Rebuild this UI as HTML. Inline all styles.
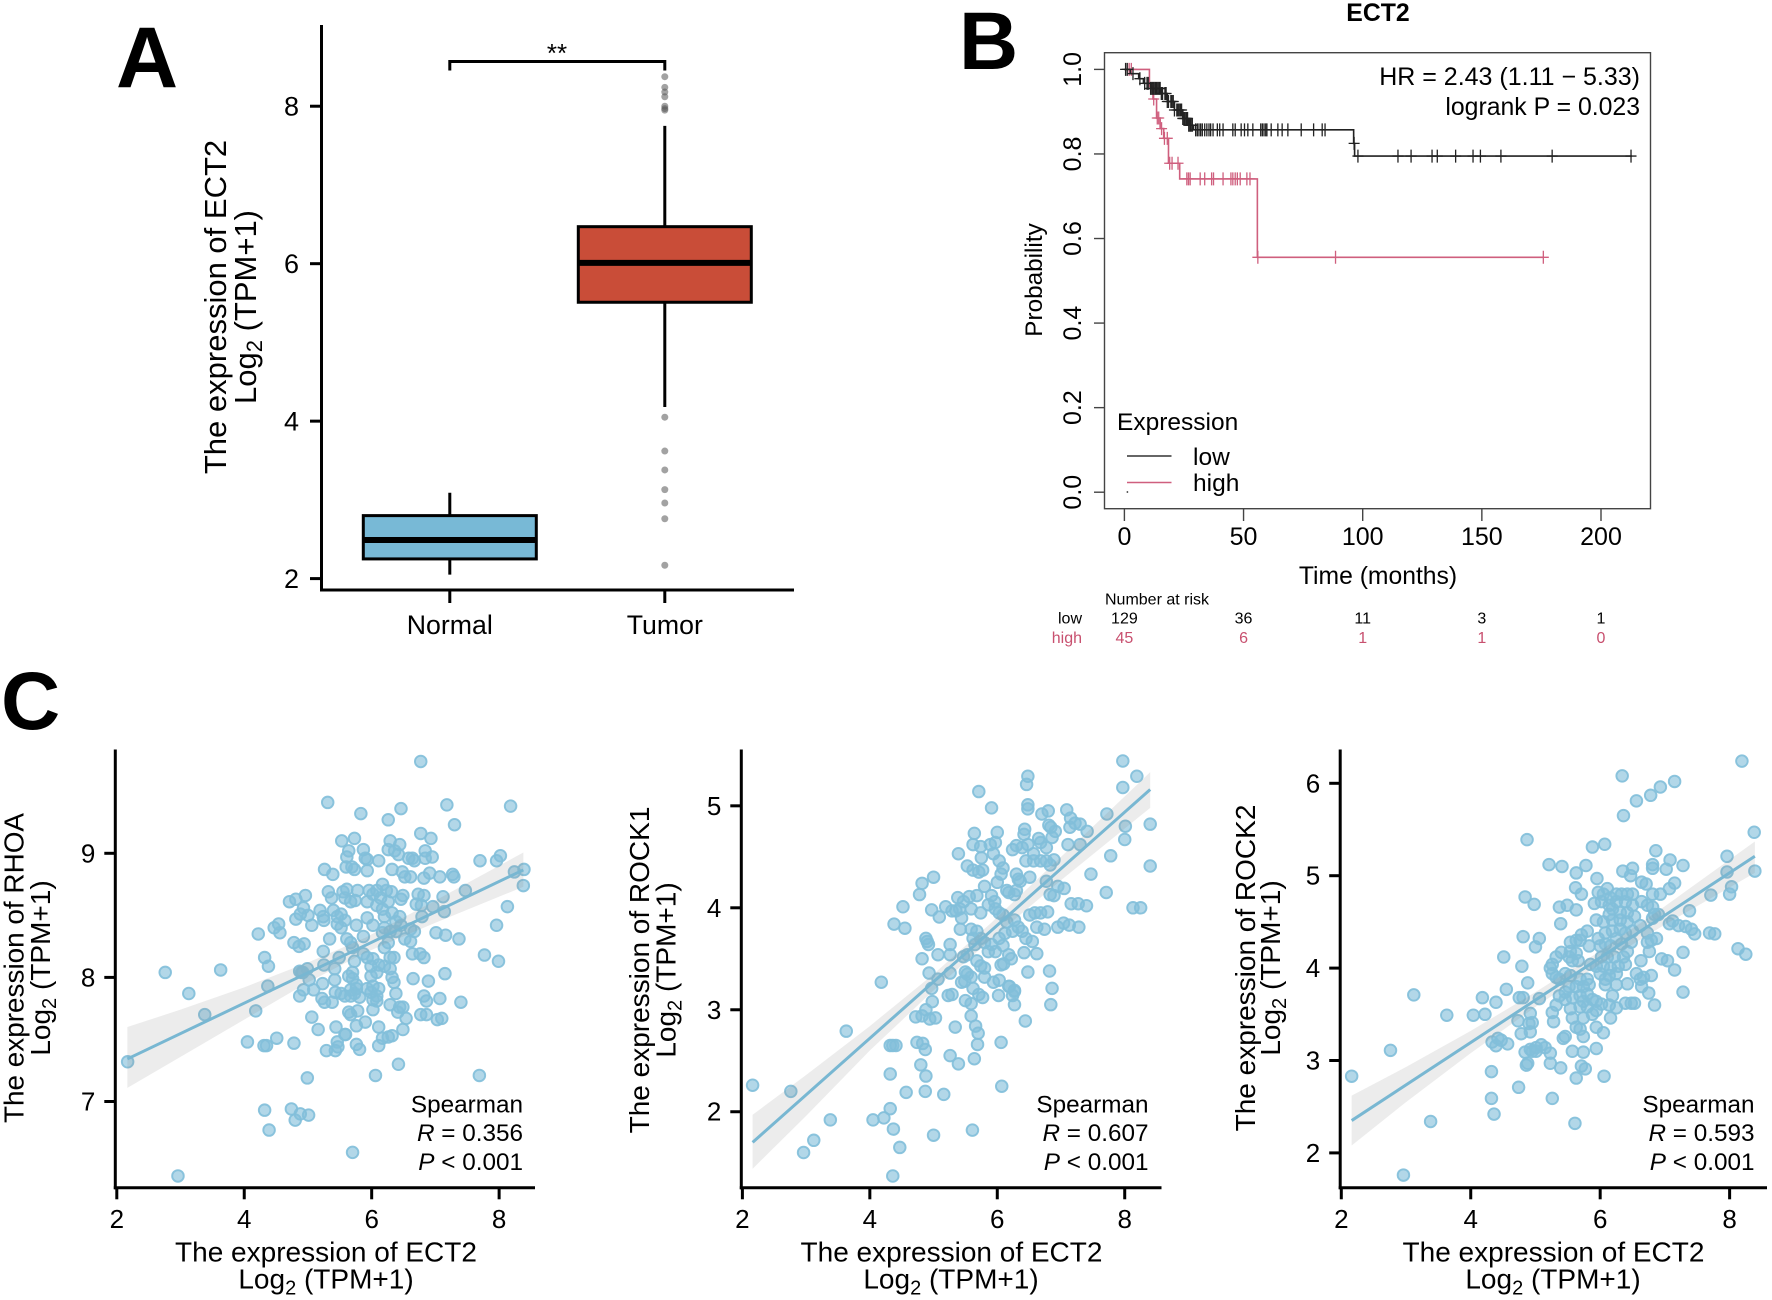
<!DOCTYPE html>
<html lang="en">
<head>
<meta charset="utf-8">
<title>ECT2 expression figure</title>
<style>
html,body{margin:0;padding:0;background:#fff}
svg{display:block}
text{font-family:"Liberation Sans",sans-serif;fill:#000}
</style>
</head>
<body>
<svg id="fig" xmlns="http://www.w3.org/2000/svg" width="1772" height="1300" viewBox="0 0 1772 1300">
  <rect width="1772" height="1300" fill="#fff"/>

  <text x="116" y="87" font-size="86" font-weight="700">A</text>
  <text x="959" y="69" font-size="82" font-weight="700">B</text>
  <text x="1" y="729" font-size="82" font-weight="700">C</text>

  <g id="panelA">
    <text transform="translate(226 307) rotate(-90)" text-anchor="middle" font-size="31">The expression of ECT2</text>
    <text transform="translate(256 307) rotate(-90)" text-anchor="middle" font-size="31">Log<tspan font-size="22" dy="6">2</tspan><tspan dy="-6"> (TPM+1)</tspan></text>
    <text x="557" y="62" text-anchor="middle" font-size="26">**</text>
  </g>

  <g id="panelB">
    <text x="1378" y="21" text-anchor="middle" font-size="24.8" font-weight="700">ECT2</text>
    <text x="1378" y="584" text-anchor="middle" font-size="24.7">Time (months)</text>
    <text transform="translate(1042 280) rotate(-90)" text-anchor="middle" font-size="24.3">Probability</text>
    <text x="1640" y="85" text-anchor="end" font-size="25">HR = 2.43 (1.11 − 5.33)</text>
    <text x="1640" y="115" text-anchor="end" font-size="24.8">logrank P = 0.023</text>
    <text x="1117" y="430" font-size="24.5">Expression</text>
    <line x1="1127" x2="1171.5" y1="456" y2="456" stroke="#333" stroke-width="1.5"/>
    <line x1="1127" x2="1171.5" y1="482.5" y2="482.5" stroke="#cf5f7e" stroke-width="1.5"/>
    <text x="1193" y="465" font-size="24.5">low</text>
    <text x="1193" y="491" font-size="24.5">high</text>
    <circle cx="1127.4" cy="492" r="0.9" fill="#333"/>
    <text x="1105" y="604.5" font-size="16">Number at risk</text>
    <text x="1082" y="623.5" text-anchor="end" font-size="16">low</text>
    <text x="1082" y="643" text-anchor="end" font-size="16" style="fill:#c8506f">high</text>
  </g>

  <g id="panelC1">
    <text transform="translate(23.5 968) rotate(-90)" text-anchor="middle" font-size="27.9">The expression of RHOA</text>
    <text transform="translate(50 968) rotate(-90)" text-anchor="middle" font-size="28">Log<tspan font-size="20" dy="6">2</tspan><tspan dy="-6"> (TPM+1)</tspan></text>
    <text x="326" y="1261.5" text-anchor="middle" font-size="28">The expression of ECT2</text>
    <text x="326" y="1288.5" text-anchor="middle" font-size="28">Log<tspan font-size="20" dy="6">2</tspan><tspan dy="-6"> (TPM+1)</tspan></text>
    <text x="523" y="1112.5" text-anchor="end" font-size="24.3">Spearman</text>
    <text x="523" y="1141" text-anchor="end" font-size="24.3"><tspan font-style="italic">R</tspan> = 0.356</text>
    <text x="523" y="1170" text-anchor="end" font-size="24.3"><tspan font-style="italic">P</tspan> &lt; 0.001</text>
  </g>

  <g id="panelC2">
    <text transform="translate(649 970) rotate(-90)" text-anchor="middle" font-size="28">The expression of ROCK1</text>
    <text transform="translate(675.5 970) rotate(-90)" text-anchor="middle" font-size="28">Log<tspan font-size="20" dy="6">2</tspan><tspan dy="-6"> (TPM+1)</tspan></text>
    <text x="951.5" y="1261.5" text-anchor="middle" font-size="28">The expression of ECT2</text>
    <text x="951" y="1288.5" text-anchor="middle" font-size="28">Log<tspan font-size="20" dy="6">2</tspan><tspan dy="-6"> (TPM+1)</tspan></text>
    <text x="1148.5" y="1112.5" text-anchor="end" font-size="24.3">Spearman</text>
    <text x="1148.5" y="1141" text-anchor="end" font-size="24.3"><tspan font-style="italic">R</tspan> = 0.607</text>
    <text x="1148.5" y="1170" text-anchor="end" font-size="24.3"><tspan font-style="italic">P</tspan> &lt; 0.001</text>
  </g>

  <g id="panelC3">
    <text transform="translate(1255 968) rotate(-90)" text-anchor="middle" font-size="28">The expression of ROCK2</text>
    <text transform="translate(1280 968) rotate(-90)" text-anchor="middle" font-size="28">Log<tspan font-size="20" dy="6">2</tspan><tspan dy="-6"> (TPM+1)</tspan></text>
    <text x="1553.5" y="1261.5" text-anchor="middle" font-size="28">The expression of ECT2</text>
    <text x="1553" y="1288.5" text-anchor="middle" font-size="28">Log<tspan font-size="20" dy="6">2</tspan><tspan dy="-6"> (TPM+1)</tspan></text>
    <text x="1754.5" y="1112.5" text-anchor="end" font-size="24.3">Spearman</text>
    <text x="1754.5" y="1141" text-anchor="end" font-size="24.3"><tspan font-style="italic">R</tspan> = 0.593</text>
    <text x="1754.5" y="1170" text-anchor="end" font-size="24.3"><tspan font-style="italic">P</tspan> &lt; 0.001</text>
  </g>
</svg>

<script>
/* ---------- Panel A data ---------- */
const boxCategories = ["Normal", "Tumor"];
const boxQ1 = [2.25, 5.51];
const boxMedian = [2.49, 6.01];
const boxQ3 = [2.80, 6.47];
const boxWhiskerLow = [2.05, 4.18];
const boxWhiskerHigh = [3.09, 7.75];
const tumorOutliers = [8.375, 8.24, 8.18, 8.12, 8.0, 7.97, 7.95, 4.05, 3.62, 3.38, 3.13, 2.96, 2.76, 2.17];
const boxYTicks = [2, 4, 6, 8];

/* ---------- Panel B data ---------- */
const kmXTicks = [0, 50, 100, 150, 200];
const kmYTicks = ["0.0", "0.2", "0.4", "0.6", "0.8", "1.0"];
const lowStepTimes = [0, 2.5, 6, 8, 11, 15.5, 18, 21, 24.5, 27, 29, 96.2, 96.6];
const lowStepSurvival = [1, 0.99, 0.978, 0.967, 0.955, 0.943, 0.924, 0.904, 0.884, 0.868, 0.857, 0.825, 0.795];
const lowEndTime = 213;
const highStepTimes = [0, 10.5, 12, 13.5, 15, 16.5, 18.5, 23.2, 55.8];
const highStepSurvival = [1, 0.96, 0.93, 0.885, 0.86, 0.837, 0.778, 0.741, 0.5556];
const highEndTime = 176;
const lowCensorTimes = [0.5, 1.2, 3.6, 6.5, 8.5, 9.5, 10, 11, 11.5, 12, 12.5, 13, 13.5, 14, 14.5, 15, 15.5, 16, 17, 17.5, 18, 18.5, 19.5, 20, 20.5, 21, 22, 22.5, 23, 23.5, 24, 24.5, 25, 25.5, 26, 26.5, 27, 27.5, 28, 28.5, 29.9, 30.6, 31.3, 32, 32.7, 33.7, 34.6, 35.5, 36.2, 37.2, 39, 40, 41.4, 45.5, 46.5, 49, 50.4, 51.8, 53.9, 57.2, 57.9, 58.6, 59.3, 59.8, 61.6, 64.4, 66.2, 68.6, 74.2, 79.4, 83, 84.2, 96.4, 98, 114.8, 120.3, 129.1, 131.3, 139, 146.3, 149.4, 158, 179.5, 212.6];
const highCensorTimes = [2, 2.9, 12.3, 13.8, 14.4, 15.6, 16.8, 18, 19, 20, 22.5, 26.2, 26.9, 27.6, 31.8, 33.7, 36.6, 37.4, 41.4, 44.7, 45.5, 46.5, 47.4, 48.6, 51.4, 52.7, 56, 88.6, 175.8];
const riskLow = [129, 36, 11, 3, 1];
const riskHigh = [45, 6, 1, 1, 0];

/* ---------- Panel C data ---------- */
const scatterXTicks = [2, 4, 6, 8];

const rhoaYTicks = [7, 8, 9];
const rhoaX = [
2.17,2.76,2.96,3.13,3.38,3.63,4.05,4.18,4.22,4.32,4.32,4.31,4.35,4.38,4.37,4.39,4.47,4.54,4.56,4.51,
4.71,4.81,4.96,4.93,4.88,5.00,4.81,5.06,4.78,4.86,4.94,4.78,4.74,4.80,4.88,5.01,4.99,4.87,4.90,4.92,
4.99,5.02,4.93,4.87,5.09,5.06,5.16,5.19,5.24,5.25,5.26,5.31,5.39,5.32,5.37,5.34,5.24,5.25,5.23,5.22,
5.26,5.38,5.29,5.43,5.47,5.44,5.59,5.42,5.42,5.43,5.49,5.53,5.73,5.64,5.61,5.87,5.83,5.60,5.69,5.73,
5.93,5.90,5.93,6.11,6.26,6.46,6.77,7.18,7.30,6.77,6.93,8.18,7.70,7.96,8.02,8.24,8.39,8.38,8.13,7.96,
7.77,7.99,7.40,7.37,7.16,7.01,7.47,7.12,7.14,6.96,7.15,6.89,7.07,6.82,6.86,7.69,6.42,6.06,5.70,
6.29,6.44,6.26,6.36,6.42,6.58,6.67,6.84,6.95,6.84,6.64,6.32,6.48,6.52,6.61,6.82,6.91,7.07,7.27,7.29,
6.77,6.86,7.03,7.10,
5.55,5.61,5.58,5.67,5.74,5.78,5.96,6.02,5.93,6.08,6.17,6.14,6.23,6.31,6.26,6.17,6.08,6.32,6.44,6.46,
6.49,6.73,6.82,6.70,6.78,6.79,6.67,6.61,5.46,5.52,5.40,5.46,5.52,5.58,5.76,5.93,6.02,6.20,6.20,6.38,
6.46,6.29,6.17,6.38,5.61,5.67,5.87,5.70,6.26,6.20,6.52,6.61,6.64,6.76,6.82,6.35,6.29,5.87,5.73,5.93,
6.02,6.11,6.20,6.29,5.99,5.99,6.32,6.35,6.65,6.08,5.70,5.70,5.76,5.64,5.67,5.76,5.58,5.52,5.67,5.73,
5.81,5.93,6.02,6.11,5.99,6.08,6.02,6.08,6.02,6.29,6.38,6.44,6.49,6.41,6.54,5.64,5.67,5.78,5.90,5.76,
6.11,6.49,6.32,6.17,6.26,6.11,5.76,5.81,5.58,5.46
];
const rhoaY = [
7.32,8.04,6.40,7.87,7.70,8.06,7.48,7.73,8.35,8.16,6.93,7.45,7.45,8.09,7.93,6.77,8.40,8.43,8.36,7.51,
8.61,8.63,8.66,8.56,8.51,8.50,8.47,8.42,8.28,8.25,8.27,7.47,6.94,6.85,6.90,6.89,7.19,8.05,8.04,8.04,
8.07,7.98,7.90,7.85,7.90,7.68,7.58,8.54,8.49,8.46,8.87,9.41,8.83,8.69,8.64,8.31,8.21,8.10,7.95,7.83,
7.80,7.80,7.41,7.41,7.44,7.60,7.54,7.98,8.07,7.88,8.16,9.10,9.12,9.02,8.97,9.03,9.32,8.89,8.89,8.87,
8.95,8.96,8.86,8.94,9.27,9.36,9.74,9.39,9.23,9.16,9.12,9.38,8.94,8.94,8.98,8.85,8.87,8.74,8.57,8.42,
8.18,8.13,7.80,8.31,8.34,8.36,8.70,8.65,8.53,8.57,8.03,7.97,7.83,7.85,7.81,7.21,7.30,7.21,6.59,
9.10,9.07,9.03,9.02,8.99,8.96,8.94,9.02,8.97,8.96,8.96,8.87,8.85,8.81,8.81,8.80,8.84,8.81,8.83,8.81,
7.70,7.70,7.66,7.67,
8.69,8.71,8.64,8.61,8.62,8.70,8.70,8.67,8.61,8.70,8.75,8.64,8.70,8.69,8.61,8.55,8.58,8.52,8.49,8.63,
8.66,8.67,8.66,8.59,8.58,8.49,8.37,8.39,8.49,8.51,8.54,8.43,8.40,8.46,8.42,8.48,8.42,8.40,8.49,8.45,
8.42,8.37,8.36,8.37,8.31,8.28,8.33,8.24,8.28,8.24,8.31,8.29,8.19,8.19,8.16,8.16,8.16,8.19,8.13,8.16,
8.15,8.10,8.09,8.07,8.09,8.01,8.00,7.96,7.99,8.04,8.04,7.99,7.94,8.01,7.90,7.91,7.85,7.87,7.85,7.87,
7.84,7.91,7.93,7.91,7.88,7.85,7.82,7.81,7.74,7.78,7.87,7.76,7.76,7.72,7.67,7.72,7.70,7.73,7.64,7.61,
7.60,7.58,7.53,7.51,7.52,7.45,7.46,7.42,7.54,7.48
];
const rhoaFitX = [2.166, 8.38];
const rhoaFitY = [7.343, 8.866];
const rhoaBandX = [2.166, 3, 4, 5, 5.9, 7, 8.38];
const rhoaBandHigh = [7.60, 7.74, 7.92, 8.12, 8.32, 8.62, 9.006];
const rhoaBandLow = [7.11, 7.36, 7.66, 7.96, 8.20, 8.44, 8.73];

const rock1YTicks = [2, 3, 4, 5];
const rock1X = [
2.16,2.76,2.96,3.12,3.38,3.63,4.05,4.22,4.32,4.37,4.47,4.36,4.32,4.18,4.32,4.36,4.41,4.57,4.38,4.55,
4.52,4.78,4.82,5.00,4.97,5.09,5.19,4.88,4.90,4.92,4.82,5.07,5.26,5.26,4.93,5.07,5.26,4.97,5.23,5.29,
4.98,4.88,4.72,4.82,4.94,5.03,5.34,4.74,4.83,4.87,4.80,4.88,4.87,5.16,5.00,5.26,5.39,5.64,5.69,5.70,
5.66,5.59,6.06,6.07,5.61,6.44,6.27,6.84,6.86,6.82,6.48,6.02,6.24,6.27,6.19,
7.97,8.19,7.97,7.72,8.01,8.40,8.00,7.78,8.40,7.47,7.71,8.13,8.25,7.40,7.28,5.71,5.91,6.48,6.46,6.48,
6.48,6.70,6.80,7.09,7.15,7.14,7.22,7.30,7.41,7.30,7.11,6.81,6.84,6.91,6.86,
6.00,5.64,5.39,5.62,5.74,5.89,5.97,5.53,5.62,5.71,5.77,5.75,5.94,6.03,6.09,6.06,6.00,5.80,
6.43,6.42,6.30,6.24,6.39,6.48,6.65,6.68,6.77,6.57,6.45,6.57,6.68,6.77,6.89,6.83,6.30,6.33,6.36,6.51,
6.77,6.95,7.05,6.83,6.89,7.16,7.27,6.30,6.18,6.15,6.27,
5.38,5.47,5.56,5.68,5.91,5.96,5.29,5.35,5.44,5.41,5.59,5.74,5.86,5.97,6.03,6.09,6.15,6.27,6.33,6.24,
6.12,6.39,6.51,6.59,6.68,6.79,6.62,6.74,6.95,7.04,7.13,5.42,5.59,5.68,5.62,5.74,5.65,5.80,5.91,6.03,
6.09,5.86,5.97,6.18,6.22,6.42,6.62,6.55,6.45,5.47,5.53,5.68,5.74,5.80,6.06,6.10,5.50,5.53,5.44,5.49,
5.59,5.80,5.94,6.03,5.62,5.71,5.77,5.50,5.59,6.18,6.27
];
const rock1Y = [
2.26,2.20,1.60,1.72,1.92,2.79,1.92,1.94,2.03,1.83,1.65,1.37,2.37,3.27,2.65,2.65,2.65,2.19,3.84,3.80,
4.01,4.13,4.24,4.30,3.98,3.91,4.01,3.70,3.67,3.64,3.50,3.54,3.64,3.54,3.36,3.30,3.36,3.21,3.14,3.15,
3.08,3.00,2.93,2.94,2.91,2.92,2.83,2.68,2.67,2.61,2.46,2.35,2.20,2.17,1.77,2.55,2.47,2.52,2.66,2.77,
2.84,2.94,2.68,2.25,1.82,2.89,3.05,3.05,3.21,3.38,3.37,3.14,3.14,3.19,3.23,
5.44,5.29,5.18,4.92,4.80,4.82,4.67,4.51,4.41,4.33,4.15,4.00,4.00,4.02,3.81,5.14,4.98,5.29,5.21,5.01,
4.97,4.92,4.95,4.96,4.88,4.79,4.83,4.82,4.75,4.62,4.62,4.81,4.79,4.75,4.69,
4.74,4.73,4.53,4.62,4.60,4.62,4.64,4.41,4.37,4.35,4.37,4.49,4.53,4.46,4.39,4.33,4.25,4.21,
4.77,4.72,4.61,4.57,4.59,4.62,4.68,4.64,4.59,4.53,4.46,4.46,4.46,4.46,4.47,4.42,4.33,4.28,4.26,4.30,
4.26,4.21,4.19,4.13,4.12,4.04,4.04,4.17,4.15,4.17,4.13,
4.10,4.06,4.11,4.12,4.12,4.06,3.97,3.97,3.90,3.99,3.99,3.95,4.03,3.99,3.95,3.93,3.86,3.88,3.81,3.77,
3.75,3.77,3.93,3.95,3.95,3.96,3.81,3.79,3.81,3.85,3.83,3.79,3.79,3.77,3.70,3.70,3.64,3.66,3.64,3.70,
3.63,3.57,3.57,3.54,3.50,3.56,3.55,3.67,3.70,3.52,3.54,3.48,3.43,3.41,3.44,3.45,3.37,3.35,3.27,3.28,
3.32,3.32,3.27,3.29,3.21,3.15,3.12,3.09,3.06,3.23,3.18
];
const rock1FitX = [2.16, 8.40];
const rock1FitY = [1.70, 5.16];
const rock1BandX = [2.16, 3, 4, 5, 5.9, 7, 8.40];
const rock1BandHigh = [1.97, 2.36, 2.84, 3.35, 3.85, 4.50, 5.33];
const rock1BandLow = [1.44, 1.96, 2.60, 3.19, 3.69, 4.27, 4.98];

const rock2YTicks = [2, 3, 4, 5, 6];
const rock2X = [
2.16,2.76,2.96,3.12,3.38,3.63,4.04,4.18,4.22,4.39,4.55,4.51,4.32,4.32,4.36,4.74,5.26,5.61,5.63,6.06,
4.87,5.21,5.41,5.63,5.78,5.88,6.07,6.34,6.36,6.56,6.78,6.93,7.15,8.19,8.38,7.96,7.96,8.39,8.03,8.00,
7.71,7.38,8.13,8.25,7.28,7.28,7.69,7.77,7.41,7.46,7.32,7.21,7.12,7.07,
6.86,6.81,6.81,7.08,7.02,7.28,7.15,7.07,6.93,6.81,6.64,6.71,6.35,6.50,6.47,5.95,5.62,5.71,5.91,5.37,
5.49,5.63,4.84,4.98,5.39,4.81,5.06,5.00,4.79,4.88,4.75,4.81,5.06,4.92,4.73,
4.90,4.95,4.78,4.92,4.33,4.42,4.39,4.47,4.57,4.84,4.92,5.01,5.09,5.15,5.23,5.01,4.95,4.86,4.88,5.23,5.39,
5.97,6.05,6.11,6.16,6.25,6.33,6.42,6.50,6.02,6.14,6.25,6.39,6.50,6.64,6.73,6.81,6.19,6.31,6.42,6.14,
5.94,6.05,6.19,6.31,6.42,6.53,6.84,6.90,6.81,
5.80,5.71,5.63,5.54,5.69,5.97,6.08,6.19,6.31,6.39,6.50,6.62,6.73,6.79,6.87,6.73,6.25,6.08,6.00,6.16,
6.33,6.48,5.83,5.63,5.54,5.52,5.57,5.40,5.32,5.26,5.23,5.26,5.32,
5.66,6.02,6.11,6.22,6.36,6.42,6.76,6.95,7.04,7.15,6.63,
5.85,5.94,6.05,6.16,6.28,6.39,6.00,6.08,6.14,6.25,6.56,6.67,6.79,6.62,
5.37,5.46,5.54,5.69,5.80,5.74,5.63,5.83,5.52,5.46,6.08,6.25,6.42,6.64,6.75,6.19,6.84,
5.37,5.46,5.57,5.69,5.80,5.74,5.88,5.94,6.02,6.14,6.25,6.48,6.53,6.39,5.54,5.69,5.80,5.88,5.94,6.16,
5.32,5.26,5.28,5.57,5.74,5.63,5.94,6.05,5.69,5.74,5.43,5.46,5.57,5.74,5.94,5.71,5.77
];
const rock2Y = [
2.83,3.11,1.76,3.71,2.34,3.49,3.49,3.68,3.50,3.63,3.77,4.12,2.88,2.59,2.42,2.71,2.59,2.32,2.81,2.83,
5.39,5.12,5.10,5.03,5.11,5.31,5.34,6.08,5.65,5.81,5.87,5.96,6.02,6.24,5.47,5.21,5.04,5.05,4.88,4.80,
4.79,4.62,4.21,4.15,4.17,3.74,4.38,4.37,4.42,4.37,4.45,4.46,4.51,4.48,
5.27,5.12,5.08,5.17,5.07,5.11,4.92,4.86,4.80,4.80,4.93,4.91,5.05,5.08,5.00,4.97,4.87,4.80,4.70,4.66,
4.68,4.63,4.77,4.69,4.48,4.34,4.32,4.23,4.02,3.84,3.68,3.68,3.67,3.51,3.43,
3.40,3.41,3.29,3.31,3.20,3.24,3.16,3.22,3.18,3.09,3.12,3.14,3.17,3.14,3.08,3.10,3.10,2.95,2.97,2.97,2.92,
4.82,4.80,4.86,4.76,4.80,4.80,4.80,4.80,4.72,4.68,4.72,4.72,4.68,4.72,4.68,4.66,4.64,4.60,4.60,4.58,
4.52,4.50,4.52,4.52,4.50,4.56,4.58,4.58,4.54,
4.40,4.36,4.30,4.28,4.30,4.32,4.38,4.40,4.42,4.38,4.40,4.46,4.38,4.30,4.32,4.28,4.32,4.26,4.24,4.24,
4.26,4.28,4.24,4.16,4.18,4.12,4.08,4.17,4.12,4.04,4.00,3.94,3.90,
4.08,4.12,4.12,4.12,4.12,4.18,4.18,4.10,4.08,3.98,4.08,
4.04,4.02,4.02,4.00,4.02,4.04,3.94,3.88,3.92,3.94,3.94,3.90,3.92,3.88,
3.88,3.94,3.92,3.88,3.88,3.80,3.80,3.82,3.80,3.74,3.82,3.82,3.83,3.80,3.73,3.70,3.60,
3.70,3.66,3.68,3.70,3.72,3.64,3.66,3.64,3.61,3.60,3.57,3.62,3.62,3.62,3.56,3.58,3.58,3.50,3.54,3.46,
3.60,3.52,3.42,3.46,3.46,3.36,3.36,3.30,3.34,3.26,3.24,3.26,3.10,3.09,3.13,2.94,2.91
];
const rock2FitX = [2.16, 8.39];
const rock2FitY = [2.35, 5.21];
const rock2BandX = [2.16, 3, 4, 5, 5.9, 7, 8.39];
const rock2BandHigh = [2.62, 2.93, 3.32, 3.74, 4.14, 4.67, 5.37];
const rock2BandLow = [2.08, 2.55, 3.08, 3.58, 4.00, 4.47, 5.03];

/* ---------- helpers ---------- */
const NS = "http://www.w3.org/2000/svg";
function mk(tag, attrs, parent) {
  const el = document.createElementNS(NS, tag);
  for (const k in attrs) el.setAttribute(k, attrs[k]);
  parent.appendChild(el);
  return el;
}
function stepAt(times, vals, t) {
  let s = vals[0];
  for (let i = 0; i < times.length; i++) if (times[i] <= t) s = vals[i];
  return s;
}

/* ---------- Panel A ---------- */
(function () {
  const g = document.getElementById("panelA");
  const yA = v => 578.6 - (v - 2) * 78.73;
  const catX = [449.8, 664.8];
  const boxHalf = 86.5;
  const fills = ["#78b9d6", "#c94d38"];

  const yAxis = mk("line", { x1: 321.5, x2: 321.5, y1: 25, y2: 591.5, stroke: "#000", "stroke-width": 3 }, g);
  
  
  const xAxis = mk("line", { x1: 320, x2: 794, y1: 590, y2: 590, stroke: "#000", "stroke-width": 3 }, g);
  
  

  boxYTicks.forEach(v => {
    const t = mk("line", { x1: 310, x2: 321, y1: yA(v), y2: yA(v), stroke: "#000", "stroke-width": 3 }, g);
    
    
    const l = mk("text", { x: 299, y: yA(v) + 9.5, "text-anchor": "end", "font-size": 27 }, g);
    l.textContent = v;
    
    
  });

  boxCategories.forEach((c, i) => {
    const x = catX[i];
    const t = mk("line", { x1: x, x2: x, y1: 590, y2: 603, stroke: "#000", "stroke-width": 3 }, g);
    
    
    const l = mk("text", { x: x, y: 634, "text-anchor": "middle", "font-size": 26.7 }, g);
    l.textContent = c;
    
    
    const w = mk("line", { x1: x, x2: x, y1: yA(boxWhiskerHigh[i]), y2: yA(boxWhiskerLow[i]), stroke: "#000", "stroke-width": 3 }, g);
    
    
    const r = mk("rect", { x: x - boxHalf, y: yA(boxQ3[i]), width: boxHalf * 2, height: yA(boxQ1[i]) - yA(boxQ3[i]), fill: fills[i], stroke: "#000", "stroke-width": 3 }, g);
    
    
    const m = mk("line", { x1: x - boxHalf, x2: x + boxHalf, y1: yA(boxMedian[i]), y2: yA(boxMedian[i]), stroke: "#000", "stroke-width": 6 }, g);
    
    
  });

  tumorOutliers.forEach(v => {
    const o = mk("circle", { cx: catX[1], cy: yA(v), r: 3.5, fill: "#555", "fill-opacity": 0.55 }, g);
    
    
  });

  const b = mk("path", { d: "M" + catX[0] + " 70.5V61.5H" + catX[1] + "V70.5", fill: "none", stroke: "#000", "stroke-width": 3 }, g);
  
  
})();

/* ---------- Panel B ---------- */
(function () {
  const g = document.getElementById("panelB");
  const xB = t => 1124.4 + t * 2.383;
  const yB = s => 492.2 - s * 422.8;
  const axisCol = "#444";

  const frame = mk("rect", { x: 1104.5, y: 52.7, width: 546, height: 456, fill: "none", stroke: axisCol, "stroke-width": 1.4 }, g);
  
  

  kmXTicks.forEach(v => {
    const t = mk("line", { x1: xB(v), x2: xB(v), y1: 509, y2: 521, stroke: axisCol, "stroke-width": 1.4 }, g);
    
    
    const l = mk("text", { x: xB(v), y: 545, "text-anchor": "middle", "font-size": 25 }, g);
    l.textContent = v;
    
    
  });
  kmYTicks.forEach(v => {
    const y = yB(parseFloat(v));
    const t = mk("line", { x1: 1094, x2: 1105, y1: y, y2: y, stroke: axisCol, "stroke-width": 1.4 }, g);
    
    
    const l = mk("text", { transform: "translate(1081 " + y + ") rotate(-90)", "text-anchor": "middle", "font-size": 25 }, g);
    l.textContent = v;
    
    
  });

  function stepPath(times, vals, end) {
    let d = "M" + xB(times[0]) + " " + yB(vals[0]);
    for (let i = 1; i < times.length; i++) {
      d += "H" + xB(times[i]) + "V" + yB(vals[i]);
    }
    return d + "H" + xB(end);
  }
  function censors(times, vals, list, col, name) {
    list.forEach(t => {
      const x = xB(t), y = yB(stepAt(times, vals, t));
      const c = mk("path", { d: "M" + (x - 5.5) + " " + y + "H" + (x + 5.5) + "M" + x + " " + (y - 6.5) + "V" + (y + 6.5), stroke: col, "stroke-width": 1.3, fill: "none" }, g);
      
      
    });
  }
  const highCol = "#cf5f7e", lowCol = "#222";
  const lineHigh = mk("path", { d: stepPath(highStepTimes, highStepSurvival, highEndTime), fill: "none", stroke: highCol, "stroke-width": 1.6 }, g);
  
  
  censors(highStepTimes, highStepSurvival, highCensorTimes, highCol, "censor-mark-high");
  const lineLow = mk("path", { d: stepPath(lowStepTimes, lowStepSurvival, lowEndTime), fill: "none", stroke: lowCol, "stroke-width": 1.6 }, g);
  
  
  censors(lowStepTimes, lowStepSurvival, lowCensorTimes, lowCol, "censor-mark-low");

  kmXTicks.forEach((v, i) => {
    const a = mk("text", { x: xB(v), y: 623.5, "text-anchor": "middle", "font-size": 16 }, g);
    a.textContent = riskLow[i];
    
    
    const b = mk("text", { x: xB(v), y: 643, "text-anchor": "middle", "font-size": 16, style: "fill:#c8506f" }, g);
    b.textContent = riskHigh[i];
    
    
  });
})();

/* ---------- Panel C ---------- */
function drawScatter(id, prefix, axisX, x2, x0, xPer, y0Val, y0Px, yPer, xs, ys, yTicks, fitX, fitY, bandX, bandHigh, bandLow) {
  const g = document.getElementById(id);
  const X = v => x0 + (v - 2) * xPer;
  const Y = v => y0Px - (v - y0Val) * yPer;
  const bottom = 1187.8;

  xs.forEach((v, i) => {
    if (ys[i] === undefined) return;
    const c = mk("circle", { cx: X(v), cy: Y(ys[i]), r: 5.8, fill: "#82bfda", "fill-opacity": 0.62, stroke: "#82bfda", "stroke-opacity": 0.92, "stroke-width": 1.9 }, g);
    
    
  });

  let d = "";
  bandX.forEach((v, i) => { d += (i ? "L" : "M") + X(v) + " " + Y(bandHigh[i]); });
  for (let i = bandX.length - 1; i >= 0; i--) d += "L" + X(bandX[i]) + " " + Y(bandLow[i]);
  const band = mk("path", { d: d + "Z", fill: "#8a8a8a", "fill-opacity": 0.16 }, g);
  
  

  const fit = mk("line", { x1: X(fitX[0]), y1: Y(fitY[0]), x2: X(fitX[1]), y2: Y(fitY[1]), stroke: "#78b7d2", "stroke-width": 3 }, g);
  
  

  const ya = mk("line", { x1: axisX, x2: axisX, y1: 749.5, y2: bottom + 1.5, stroke: "#000", "stroke-width": 3 }, g);
  
  
  const xa = mk("line", { x1: axisX - 1.5, x2: x2, y1: bottom, y2: bottom, stroke: "#000", "stroke-width": 3 }, g);
  
  

  scatterXTicks.forEach(v => {
    const t = mk("line", { x1: X(v), x2: X(v), y1: bottom, y2: bottom + 11.5, stroke: "#000", "stroke-width": 3 }, g);
    
    
    const l = mk("text", { x: X(v), y: 1228, "text-anchor": "middle", "font-size": 26 }, g);
    l.textContent = v;
    
    
  });
  yTicks.forEach(v => {
    const t = mk("line", { x1: axisX - 11, x2: axisX, y1: Y(v), y2: Y(v), stroke: "#000", "stroke-width": 3 }, g);
    
    
    const l = mk("text", { x: axisX - 20, y: Y(v) + 9, "text-anchor": "end", "font-size": 26 }, g);
    l.textContent = v;
    
    
  });
}
drawScatter("panelC1", "rhoa", 115.3, 535, 116.8, 63.72, 8, 977.4, 124.1, rhoaX, rhoaY, rhoaYTicks, rhoaFitX, rhoaFitY, rhoaBandX, rhoaBandHigh, rhoaBandLow);
drawScatter("panelC2", "rock1", 741.3, 1161.5, 742.4, 63.72, 4, 907.8, 101.97, rock1X, rock1Y, rock1YTicks, rock1FitX, rock1FitY, rock1BandX, rock1BandHigh, rock1BandLow);
drawScatter("panelC3", "rock2", 1340.2, 1767, 1341.3, 64.72, 4, 968.1, 92.4, rock2X, rock2Y, rock2YTicks, rock2FitX, rock2FitY, rock2BandX, rock2BandHigh, rock2BandLow);
</script>
</body>
</html>
